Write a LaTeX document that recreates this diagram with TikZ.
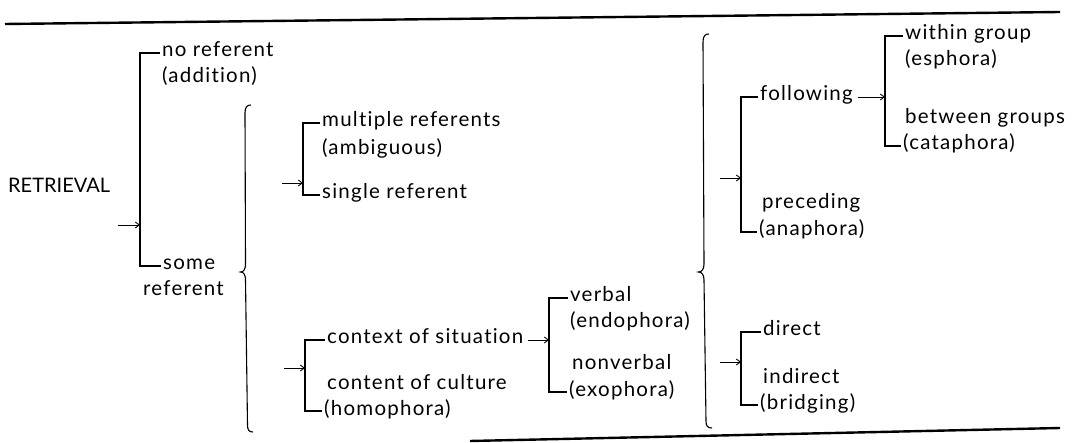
\documentclass[tikz,border=0pt]{standalone}
\usepackage{fontspec}
\setmainfont{Lato}[LetterSpace=6,RawFeature={-liga;-dlig;-clig}]
\newfontfamily\capsfont{Lato}[RawFeature={-liga}]
\usetikzlibrary{arrows.meta}
\begin{document}
\begin{tikzpicture}[x=1pt,y=-1pt,
  lbl/.style={anchor=base west,inner sep=0pt,font=\fontsize{20.5}{26}\selectfont},
  brline/.style={line width=1.1pt},
  arr/.style={line width=0.9pt,-{Straight Barb[length=4pt,width=6pt]}},
  rule/.style={line width=2.4pt},
  bracestyle/.style={line width=1.1pt}]
\useasboundingbox (0,0) rectangle (1073,443);
% rules
\coordinate (r1a) at (5,24); \coordinate (r1b) at (1060,12);
\coordinate (r2a) at (470,441); \coordinate (r2b) at (1060,428);
\draw[rule] (r1a) -- (r1b);
\draw[rule] (r2a) -- (r2b);
% bracket x positions
\coordinate (Ax) at (140,0);
\coordinate (Bx) at (303,0);
\coordinate (Cx) at (305,0);
\coordinate (Dx) at (549,0);
\coordinate (Ex) at (741,0);
\coordinate (Fx) at (885,0);
\coordinate (Gx) at (741,0);
% texts
\node[lbl,font=\capsfont\fontsize{20}{26}\selectfont] (ret) at (8,193) {RETRIEVAL};
\node[lbl] (no) at (162,57) {no referent};
\node[lbl] (add) at (162,83) {(addition)};
\node[lbl] (some) at (163,270) {some};
\node[lbl] (ref) at (143,296) {referent};
\node[lbl] (mul) at (322,127) {multiple referents};
\node[lbl] (amb) at (322,155) {(ambiguous)};
\node[lbl] (sin) at (322,199) {single referent};
\node[lbl] (ctx) at (327,344) {context of situation};
\node[lbl] (cul) at (327,389) {content of culture};
\node[lbl] (hom) at (324,415) {(homophora)};
\node[lbl] (ver) at (570,302) {verbal};
\node[lbl] (endo) at (570,328) {(endophora)};
\node[lbl] (nonv) at (572,370) {nonverbal};
\node[lbl] (exo) at (569,396) {(exophora)};
\node[lbl] (fol) at (760,101) {following};
\node[lbl] (pre) at (762,209) {preceding};
\node[lbl] (ana) at (759,236) {(anaphora)};
\node[lbl] (wit) at (905,40) {within group};
\node[lbl] (esp) at (905,66) {(esphora)};
\node[lbl] (bet) at (905,124) {between groups};
\node[lbl] (cat) at (903,150) {(cataphora)};
\node[lbl] (dir) at (763,336) {direct};
\node[lbl] (ind) at (763,383) {indirect};
\node[lbl] (bri) at (760,409) {(bridging)};
% bracket macro: #1 x coord, #2 top node, #3 bottom node
\newcommand\mybrk[3]{%
  \draw[brline] ([shift={(-2pt,4pt)}]#2.base west) -- ([yshift=4pt]#2.base west -| #1)
     -- ([yshift=4pt]#3.base west -| #1) -- ([shift={(-2pt,4pt)}]#3.base west);}
\mybrk{Ax}{no}{some}
\mybrk{Bx}{mul}{sin}
\mybrk{Cx}{ctx}{hom}
\mybrk{Dx}{ver}{exo}
\mybrk{Ex}{fol}{ana}
\mybrk{Fx}{wit}{cat}
\mybrk{Gx}{dir}{bri}
% entry arrows
\coordinate (aA) at (118,225);
\coordinate (aB) at (282,183);
\coordinate (aC) at (284,368);
\coordinate (aE) at (720,178);
\coordinate (aG) at (720,362);
\draw[arr] (aA) -- (aA -| Ax);
\draw[arr] (aB) -- (aB -| Bx);
\draw[arr] (aC) -- (aC -| Cx);
\draw[arr] (aE) -- (aE -| Ex);
\draw[arr] (aG) -- (aG -| Gx);
\draw[arr] ([shift={(5pt,4pt)}]ctx.base east) -- ([yshift=4pt]ctx.base east -| Dx);
\draw[arr] ([shift={(5pt,4pt)}]fol.base east) -- ([yshift=4pt]fol.base east -| Fx);
% braces
\draw[bracestyle] (251,105) .. controls (247,105) and (245,107) .. (245,113)
  -- (245.5,264) .. controls (245.5,269) and (244,272) .. (240.5,272)
  .. controls (244,272) and (245.5,275) .. (245.5,280)
  -- (247.5,425) .. controls (247.5,430) and (249,432) .. (253,432);
\draw[bracestyle] (709,34) .. controls (705,34) and (703,36) .. (703,42)
  -- (704,264) .. controls (704,269) and (702,272) .. (698.5,272)
  .. controls (702,272) and (704,275) .. (704,280)
  -- (706,421) .. controls (706,426) and (707.5,428) .. (712,428);
\end{tikzpicture}
\end{document}
